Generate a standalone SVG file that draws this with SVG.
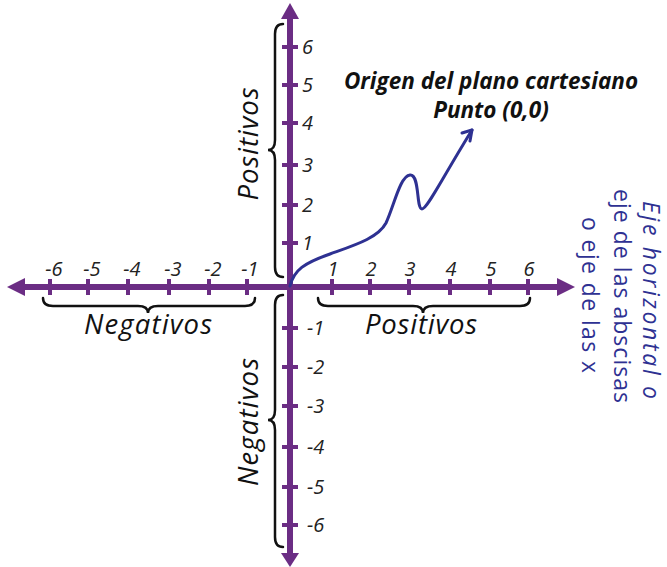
<svg xmlns="http://www.w3.org/2000/svg" width="667" height="567" viewBox="0 0 667 567">
<style>
.ax{stroke:#6b2d84;stroke-width:6;fill:none}
.tk{stroke:#6b2d84;stroke-width:4;fill:none}
.ah{fill:#6b2d84}
.br{stroke:#111;stroke-width:2.5;fill:none;stroke-linecap:round}
.num{font-family:"Open Sans",sans-serif;font-style:italic;font-size:20px;fill:#222}
.lbl{font-family:"Open Sans",sans-serif;font-style:italic;font-size:27.5px;fill:#111}
.ttl{font-family:"Open Sans",sans-serif;font-style:italic;font-weight:bold;font-size:22.5px;fill:#111}
.side{font-family:"Open Sans",sans-serif;font-size:23px;fill:#2e3192}
.crv{stroke:#2e3192;stroke-width:3;fill:none;stroke-linecap:round;stroke-linejoin:round}
</style>
<g id="axes">
<line class="ax" x1="20" y1="287" x2="562" y2="287"/>
<line class="ax" x1="290" y1="15" x2="290" y2="556"/>
<polygon class="ah" points="7,287 25,278 25,296"/>
<polygon class="ah" points="575,287 557,278 557,296"/>
<polygon class="ah" points="290,3 281,19 299,19"/>
<polygon class="ah" points="290,567 281,553 299,553"/>
<g class="tk">
<line x1="50" y1="279" x2="50" y2="295"/><line x1="88" y1="279" x2="88" y2="295"/><line x1="128" y1="279" x2="128" y2="295"/><line x1="169" y1="279" x2="169" y2="295"/><line x1="209" y1="279" x2="209" y2="295"/><line x1="247" y1="279" x2="247" y2="295"/>
<line x1="332" y1="279" x2="332" y2="295"/><line x1="370" y1="279" x2="370" y2="295"/><line x1="409" y1="279" x2="409" y2="295"/><line x1="450" y1="279" x2="450" y2="295"/><line x1="490" y1="279" x2="490" y2="295"/><line x1="528" y1="279" x2="528" y2="295"/>
<line x1="282" y1="47" x2="298" y2="47"/><line x1="282" y1="85" x2="298" y2="85"/><line x1="282" y1="123" x2="298" y2="123"/><line x1="282" y1="165" x2="298" y2="165"/><line x1="282" y1="205" x2="298" y2="205"/><line x1="282" y1="243" x2="298" y2="243"/>
<line x1="282" y1="328" x2="298" y2="328"/><line x1="282" y1="367" x2="298" y2="367"/><line x1="282" y1="406" x2="298" y2="406"/><line x1="282" y1="447" x2="298" y2="447"/><line x1="282" y1="487" x2="298" y2="487"/><line x1="282" y1="525" x2="298" y2="525"/>
</g>
</g>
<g id="x-labels" class="num" text-anchor="middle">
<text x="54" y="276">-6</text><text x="92" y="276">-5</text><text x="132" y="276">-4</text><text x="173" y="276">-3</text><text x="213" y="276">-2</text><text x="250" y="276">-1</text>
<text x="333" y="276">1</text><text x="371" y="276">2</text><text x="410" y="276">3</text><text x="451" y="276">4</text><text x="491" y="276">5</text><text x="529" y="276">6</text>
</g>
<g id="y-labels" class="num">
<text x="302" y="54">6</text><text x="302" y="92">5</text><text x="302" y="130">4</text><text x="302" y="172">3</text><text x="302" y="212">2</text><text x="302" y="250">1</text>
<text x="307" y="335">-1</text><text x="307" y="374">-2</text><text x="307" y="413">-3</text><text x="307" y="454">-4</text><text x="307" y="494">-5</text><text x="307" y="532">-6</text>
</g>
<g id="braces" class="br">
<path d="M283,24 Q275,24 275,34 L275,140 Q275,150 268,150 Q275,150 275,160 L275,267 Q275,277 283,277"/>
<path d="M283,295 Q275,295 275,305 L275,410 Q275,420 268,420 Q275,420 275,430 L275,537 Q275,547 283,547"/>
<path d="M43,298 Q43,306 53,306 L138,306 Q148,306 148,313 Q148,306 158,306 L245,306 Q255,306 255,298"/>
<path d="M318,298 Q318,306 328,306 L413,306 Q423,306 423,313 Q423,306 433,306 L520,306 Q530,306 530,298"/>
</g>
<g id="section-labels" class="lbl" text-anchor="middle">
<text x="148" y="334" textLength="128" lengthAdjust="spacing">Negativos</text>
<text x="421" y="334" textLength="112" lengthAdjust="spacing">Positivos</text>
<text transform="translate(258,144) rotate(-90)" textLength="113" lengthAdjust="spacing">Positivos</text>
<text transform="translate(258,422) rotate(-90)" textLength="128" lengthAdjust="spacing">Negativos</text>
</g>
<g id="origin-label" class="ttl" text-anchor="middle">
<text x="491" y="89">Origen del plano cartesiano</text>
<text x="491" y="118">Punto (0,0)</text>
</g>
<g id="connectors">
<path class="crv" d="M290,286 C294,270 304,263 330,254 C355,245 378,238 386,223 C394,206 400,176 410,175 C420,174 416,209 422,209 C427,209 440,182 472,130"/>
<path class="crv" d="M462,133 L472,130 L470,141"/>
</g>
<g id="axis-title" class="side" text-anchor="middle">
<text transform="translate(643,300) rotate(90)" font-style="italic" textLength="198" lengthAdjust="spacing">Eje horizontal o</text>
<text transform="translate(614,296) rotate(90)" textLength="214" lengthAdjust="spacing">eje de las abscisas</text>
<text transform="translate(582,295) rotate(90)" textLength="156" lengthAdjust="spacing">o eje de las x</text>
</g>
</svg>
